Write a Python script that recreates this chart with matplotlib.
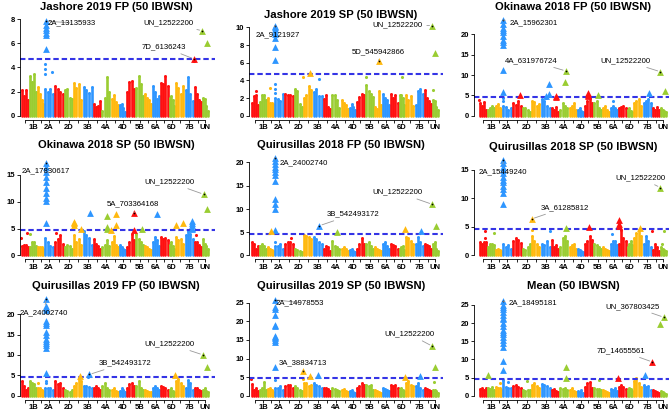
import numpy as np
import matplotlib.pyplot as plt

plt.rcParams['font.family'] = ['Liberation Sans', 'DejaVu Sans']

# chromosome layout (Mb)
chroms = ['1A', '1B', '1D', '2A', '2B', '2D', '3A', '3B', '3D', '4A', '4B', '4D',
          '5A', '5B', '5D', '6A', '6B', '6D', '7A', '7B', '7D', 'UN']
chrom_len = [594, 689, 495, 780, 801, 651, 750, 830, 615, 745, 674, 509,
             709, 713, 566, 618, 721, 473, 736, 750, 638, 480]
chrom_colors = ['#FF1010', '#9ACD32', '#FFB90F', '#2E96FF']
threshold = 4.67

titles = ['Jashore 2019 FP (50 IBWSN)', 'Jashore 2019 SP (50 IBWSN)', 'Okinawa 2018 FP (50 IBWSN)',
          'Okinawa 2018 SP (50 IBWSN)', 'Quirusillas 2018 FP (50 IBWSN)', 'Quirusillas 2018 SP (50 IBWSN)',
          'Quirusillas 2019 FP (50 IBWSN)', 'Quirusillas 2019 SP (50 IBWSN)', 'Mean (50 IBWSN)']
yticks_max = [8, 10, 20, 15, 20, 15, 20, 25, 25]
ytick_step = [2, 2, 5, 5, 5, 5, 5, 5, 5]

# --- background -log10(p) skyline, 4 values per chromosome ---
p1_stems = [[2.1, 1.6, 2.1, 1.3], [3.3, 2.8, 3.5, 2.0], [2.4, 1.8, 1.3, 1.0], [2.2, 2.0, 2.2, 1.8],
            [2.5, 2.2, 2.0, 1.8], [2.1, 2.2, 1.5, 1.4], [2.7, 2.3, 2.6, 1.3], [2.4, 2.1, 1.9, 2.4],
            [1.0, 0.7, 0.8, 1.2], [0.4, 1.5, 3.2, 2.0], [1.4, 1.7, 1.1, 0.9], [0.9, 1.0, 0.6, 0.3],
            [2.0, 2.8, 2.9, 2.2], [2.3, 3.3, 2.6, 1.6], [1.8, 1.5, 1.3, 1.0], [2.5, 2.0, 1.4, 1.6],
            [2.7, 2.6, 3.3, 2.5], [1.5, 1.6, 1.3, 0.8], [2.7, 2.3, 1.8, 2.5], [2.1, 3.2, 1.8, 1.2],
            [2.4, 1.8, 1.3, 1.1], [1.5, 1.4, 0.8, 0.4]]
p2_stems = [[1.4, 2.2, 2.3, 1.2], [1.5, 2.3, 2.4, 1.8], [2.0, 1.4, 1.4, 1.3], [2.0, 1.9, 1.7, 2.5],
            [2.5, 2.3, 2.4, 2.2], [3.0, 2.8, 1.3, 1.0], [2.0, 2.4, 3.4, 2.9], [2.7, 3.0, 2.2, 2.2],
            [1.9, 2.3, 1.0, 0.8], [2.4, 2.3, 1.8, 0.9], [1.8, 1.4, 1.2, 0.8], [0.9, 1.3, 1.0, 0.6],
            [1.5, 2.1, 2.5, 2.3], [3.5, 2.8, 2.5, 2.1], [1.0, 0.8, 2.8, 1.2], [2.5, 2.0, 1.8, 1.2],
            [2.5, 2.0, 2.3, 1.4], [2.4, 2.4, 2.0, 1.2], [2.3, 1.8, 2.2, 1.1], [1.2, 2.8, 3.0, 2.5],
            [2.9, 2.0, 1.7, 1.3], [1.8, 1.7, 1.0, 0.7]]
p3_stems = [[3.0, 2.5, 3.3, 1.5], [1.5, 2.0, 2.5, 1.8], [2.5, 2.8, 2.0, 1.5], [2.5, 2.2, 1.5, 1.8],
            [3.0, 2.6, 3.5, 2.5], [2.0, 1.8, 1.5, 1.0], [3.5, 3.3, 2.5, 2.8], [4.0, 3.5, 2.5, 2.0],
            [2.0, 1.5, 2.2, 1.0], [1.3, 3.2, 2.5, 2.0], [1.8, 2.5, 3.0, 1.5], [1.5, 1.8, 1.2, 0.8],
            [2.5, 3.5, 4.5, 3.0], [3.0, 3.5, 2.0, 1.5], [2.0, 2.5, 1.5, 1.0], [2.0, 2.5, 2.0, 1.5],
            [2.0, 2.2, 2.4, 1.8], [1.5, 1.8, 1.2, 1.0], [3.0, 3.5, 4.0, 2.5], [3.0, 3.5, 4.0, 3.0],
            [2.0, 1.5, 2.2, 1.5], [1.8, 1.5, 1.2, 1.0]]
p4_stems = [[1.8, 2.0, 2.0, 1.5], [1.6, 2.5, 2.5, 1.8], [1.5, 1.6, 1.5, 1.2], [3.2, 2.5, 1.8, 1.5],
            [2.5, 3.0, 3.8, 2.2], [1.5, 2.0, 1.8, 1.2], [3.8, 2.5, 3.0, 2.0], [4.5, 3.8, 3.2, 2.0],
            [3.0, 2.2, 1.8, 1.2], [1.5, 2.0, 2.8, 1.8], [2.5, 3.7, 2.0, 1.5], [2.0, 1.5, 1.2, 1.0],
            [1.5, 2.5, 4.0, 2.8], [4.0, 3.0, 2.5, 2.0], [1.8, 1.5, 1.2, 1.0], [2.5, 3.5, 2.8, 1.8],
            [3.5, 3.0, 3.2, 2.8], [2.0, 2.5, 1.8, 1.2], [3.5, 2.8, 3.0, 2.2], [3.8, 4.5, 4.0, 3.0],
            [2.5, 2.6, 2.0, 1.5], [3.0, 2.2, 1.8, 1.2]]
p5_stems = [[3.0, 2.5, 1.5, 2.0], [2.0, 2.5, 2.0, 1.5], [1.8, 1.5, 1.2, 1.0], [2.0, 2.0, 2.5, 1.5],
            [2.5, 3.0, 3.0, 2.5], [1.5, 1.2, 1.0, 0.8], [4.5, 4.2, 4.0, 3.5], [4.0, 3.5, 3.0, 2.5],
            [1.5, 2.0, 1.8, 1.0], [3.2, 2.0, 1.8, 1.5], [1.5, 1.8, 1.3, 1.0], [1.2, 1.5, 1.0, 0.8],
            [1.5, 2.5, 3.8, 2.5], [2.5, 3.0, 2.0, 1.5], [1.8, 1.5, 1.2, 0.9], [2.5, 2.8, 2.0, 1.5],
            [2.5, 2.2, 2.0, 1.5], [1.5, 1.8, 2.0, 1.2], [4.0, 3.8, 3.2, 2.5], [2.5, 4.0, 3.0, 2.0],
            [2.5, 2.2, 2.0, 1.5], [2.5, 3.0, 1.5, 1.0]]
p6_stems = [[2.4, 2.0, 2.3, 2.3], [1.5, 2.0, 2.0, 1.8], [1.0, 1.2, 1.0, 0.8], [2.0, 1.5, 1.8, 1.2],
            [2.5, 3.0, 2.8, 2.2], [1.2, 1.0, 1.5, 2.0], [3.5, 2.5, 2.0, 1.5], [2.0, 1.8, 2.5, 1.5],
            [2.8, 1.5, 1.8, 1.2], [1.5, 3.0, 3.5, 2.5], [1.5, 1.8, 2.0, 1.2], [1.2, 1.0, 0.8, 0.6],
            [2.0, 2.5, 3.5, 2.8], [2.0, 1.8, 1.5, 1.2], [1.5, 1.2, 1.0, 0.8], [2.0, 2.5, 2.5, 1.8],
            [2.0, 4.5, 3.0, 2.5], [1.5, 2.0, 2.5, 1.8], [3.0, 4.0, 4.5, 3.5], [2.0, 3.4, 2.5, 1.5],
            [1.0, 2.0, 1.5, 0.8], [1.5, 1.2, 1.0, 0.8]]
p7_stems = [[3.5, 2.5, 1.5, 2.0], [3.5, 3.2, 2.8, 2.0], [2.0, 2.0, 1.5, 1.2], [2.0, 2.0, 1.8, 1.5],
            [3.5, 2.8, 3.0, 2.0], [1.5, 1.2, 1.0, 1.5], [2.5, 3.0, 4.0, 3.5], [2.5, 2.5, 2.2, 1.8],
            [2.0, 2.5, 1.8, 1.5], [2.5, 3.0, 1.8, 1.5], [1.5, 1.8, 1.2, 1.0], [1.2, 1.8, 1.5, 1.0],
            [2.0, 2.8, 3.0, 2.5], [2.5, 3.5, 2.0, 1.5], [1.5, 1.2, 1.0, 0.8], [2.0, 2.5, 1.8, 1.5],
            [2.5, 2.2, 2.0, 1.5], [1.5, 1.8, 1.2, 1.0], [3.5, 4.0, 3.0, 2.5], [2.0, 3.8, 3.0, 1.5],
            [2.0, 1.8, 1.5, 1.2], [1.5, 2.0, 1.2, 0.8]]
p8_stems = [[3.2, 1.5, 2.0, 1.2], [1.5, 2.0, 3.8, 1.5], [1.8, 2.0, 1.5, 1.0], [2.0, 2.0, 2.5, 1.5],
            [2.5, 3.0, 2.8, 2.0], [2.5, 2.0, 1.5, 1.2], [3.5, 3.5, 2.5, 3.0], [3.5, 3.0, 2.5, 2.0],
            [2.0, 2.2, 1.8, 1.2], [2.0, 1.8, 1.5, 1.2], [1.5, 1.8, 1.2, 1.0], [1.2, 1.5, 1.0, 0.8],
            [2.0, 2.5, 3.5, 3.0], [3.0, 2.5, 2.8, 1.5], [1.5, 1.2, 1.0, 0.8], [2.0, 1.8, 1.5, 1.2],
            [3.0, 2.5, 2.8, 2.0], [1.8, 2.0, 1.5, 1.2], [3.5, 4.0, 3.0, 2.5], [2.5, 3.5, 2.0, 1.5],
            [2.0, 1.8, 1.5, 1.2], [1.5, 1.5, 1.2, 0.8]]
p9_stems = [[1.8, 2.0, 1.5, 2.2], [2.0, 1.8, 2.5, 1.5], [2.5, 2.0, 2.0, 1.5], [4.2, 2.5, 2.0, 2.0],
            [2.8, 3.0, 2.5, 2.2], [1.5, 1.2, 1.5, 1.5], [3.0, 3.5, 2.8, 2.0], [3.2, 3.0, 2.8, 2.0],
            [1.5, 1.8, 1.2, 1.0], [2.0, 1.8, 2.2, 1.5], [1.5, 2.0, 1.2, 1.0], [1.2, 1.0, 1.5, 0.8],
            [2.5, 3.5, 3.8, 2.0], [2.0, 1.8, 1.8, 1.5], [1.5, 1.2, 1.0, 0.8], [1.8, 1.5, 2.0, 1.2],
            [2.5, 3.0, 2.5, 1.8], [1.5, 2.0, 1.8, 1.2], [4.0, 4.8, 3.5, 2.5], [3.0, 2.5, 2.8, 1.5],
            [1.5, 1.2, 1.0, 0.8], [1.2, 1.0, 0.8, 0.6]]

# --- isolated points above the skyline: (chrom, fraction along chrom, -log10 p) ---
p1_dots = [('2A', 0.15, 3.5), ('2A', 0.15, 3.9), ('2A', 0.15, 4.3), ('2A', 0.85, 3.65), ('7D', 0.02, 4.5)]
p2_dots = [('1A', 0.7, 2.85), ('1D', 0.45, 3.1), ('2A', 0.1, 2.6), ('2A', 0.1, 3.0), ('2A', 0.1, 3.6),
           ('3A', 0.0, 4.4), ('3B', 0.65, 4.2), ('5B', 0.1, 4.4), ('6D', 0.6, 4.4), ('UN', 0.1, 2.9)]
p3_dots = [('1A', 0.05, 3.9), ('2A', 0.13, 4.3), ('2A', 0.13, 3.6), ('3B', 0.5, 4.4), ('6A', 0.4, 3.5)]
p4_dots = [('1A', 0.05, 3.3), ('1A', 0.8, 4.2), ('1B', 0.15, 4.0), ('2B', 0.2, 4.1), ('7D', 0.2, 3.9)]
p5_dots = [('2A', 0.1, 3.0), ('2B', 0.7, 3.8)]
p6_dots = [('1A', 0.75, 4.3), ('1A', 0.75, 3.1), ('1B', 0.85, 4.0), ('3A', 0.1, 4.5), ('3B', 0.85, 4.3),
           ('6A', 0.35, 3.8), ('7D', 0.0, 4.3), ('UN', 0.6, 4.3), ('UN', 0.3, 2.0)]
p7_dots = [('1D', 0.1, 3.2), ('2A', 0.2, 3.7), ('2A', 0.2, 3.2), ('3B', 0.55, 4.5)]
p8_dots = [('1A', 0.05, 4.6), ('2A', 0.1, 4.2), ('3A', 0.05, 4.4), ('UN', 0.3, 3.8)]
p9_dots = [('1D', 0.75, 3.5), ('2A', 0.6, 3.8), ('2D', 0.6, 4.0), ('5B', 0.6, 4.3)]

# --- significant SNPs (triangles): (chrom, fraction, -log10 p) ---
p1_tri = [('2A', 0.2, v) for v in [7.5, 7.3, 7.1, 6.9, 6.7, 5.5]] + [('UN', 0.74, 6.05)]
p2_tri = [('2A', 0.07, v) for v in [10.0, 9.8, 9.5, 9.2, 8.8, 7.8, 6.3]] + [('3A', 0.76, 4.8), ('UN', 0.47, 7.1)]
p3_tri = ([('2A', 0.13, v) for v in [22.5, 21.5, 21.0, 20.5, 19.5, 18.5, 18.0, 17.3, 11.3, 5.8]] +
          [('2B', 0.77, 5.0), ('3B', 0.8, 7.8), ('3B', 0.8, 5.3), ('3B', 0.5, 4.9), ('3D', 0.58, 4.8),
           ('3D', 0.58, 4.5), ('4A', 0.65, 8.3), ('5A', 0.48, 5.6), ('5A', 0.48, 5.2), ('5A', 0.48, 4.8),
           ('5B', 0.57, 5.1), ('7B', 0.66, 5.6), ('UN', 0.68, 6.0)])
p4_tri = ([('2A', 0.17, v) for v in [16.5, 15.6, 14.6, 13.6, 12.6, 11.6, 10.8, 10.2, 6.1]] +
          [('3A', 0.1, 6.3), ('3A', 0.1, 6.0), ('3A', 0.1, 5.7), ('3A', 0.9, 4.9), ('3B', 0.75, 8.0),
           ('4A', 0.62, 7.3), ('4A', 0.62, 5.3), ('4A', 0.62, 5.0), ('4B', 0.58, 7.7), ('4B', 0.58, 5.6),
           ('4B', 0.02, 4.8), ('5A', 0.85, 4.8), ('5B', 0.75, 4.9), ('6A', 0.7, 7.8), ('7A', 0.07, 5.7),
           ('7A', 0.83, 6.0), ('7B', 0.8, 6.4), ('7B', 0.8, 6.0), ('7B', 0.8, 5.7), ('7B', 0.8, 5.2),
           ('7B', 0.8, 4.9), ('UN', 0.74, 8.6)])
p5_tri = ([('2A', 0.07, v) for v in [20.4, 19.6, 19.0, 18.5, 18.0, 17.4, 16.0, 12.2, 11.0, 10.0, 5.5]] +
          [('1D', 0.58, 5.2), ('4A', 0.6, 5.0), ('7A', 0.05, 5.6), ('7B', 0.65, 5.2), ('UN', 0.58, 6.4)])
p6_tri = ([('2A', 0.13, v) for v in [16.2, 15.5, 15.0, 14.4, 13.8, 13.3, 12.8, 12.2, 11.6, 11.0, 9.0]] +
          [('4A', 0.7, 4.8), ('5A', 0.55, 5.0), ('6B', 0.15, 6.3), ('6B', 0.15, 5.6), ('6B', 0.15, 5.2),
           ('7A', 0.7, 4.8)])
p7_tri = ([('2A', 0.2, v) for v in [22.0, 21.5, 21.0, 18.3, 17.8, 17.3, 15.6, 15.0, 14.0, 13.5, 13.0,
                                    12.4, 11.8, 5.5]] +
          [('3A', 0.8, 4.9), ('7A', 0.03, 5.0), ('UN', 0.74, 7.0)])
p8_tri = ([('2A', 0.07, v) for v in [23.8, 23.4, 21.8, 19.1, 18.7, 16.0, 15.7, 15.4, 15.0, 14.5, 7.8]] +
          [('3A', 0.76, 5.3), ('3B', 0.5, 5.6), ('7A', 0.0, 5.0), ('7B', 0.6, 5.2), ('UN', 0.47, 7.7)])
p9_tri = ([('2A', 0.13, v) for v in [25.0, 24.4, 23.8, 23.0, 22.2, 21.5, 21.0, 20.0, 19.2, 18.2, 17.6,
                                     17.0, 16.2, 15.3, 14.5, 13.3, 9.5, 7.2]] +
          [('1B', 0.1, 5.8), ('4A', 0.75, 7.8), ('4A', 0.75, 4.9), ('6B', 0.03, 5.0), ('7B', 0.3, 5.7),
           ('UN', 0.0, 19.8)])

# --- labelled SNPs: (chrom, fraction, -log10 p, name, label x [Mb], label y) ---
p1_lab = [('2A', 0.2, 7.85, '2A_13135933', 3918, 7.7), ('UN', 0.0, 7.05, 'UN_12522200', 11392, 7.7),
          ('7D', 0.02, 4.7, '7D_6136243', 11057, 5.7)]
p2_lab = [('2A', 0.07, 10.2, '2A_9121927', 2088, 9.2), ('UN', 0.0, 10.2, 'UN_12522200', 11366, 10.3),
          ('5D', 0.6, 6.2, '5D_545942866', 9897, 7.2)]
p3_lab = [('2A', 0.13, 23.5, '2A_15962301', 4227, 22.9), ('4A', 0.7, 11.0, '4A_631976724', 4021, 13.5),
          ('UN', 0.0, 10.8, 'UN_12522200', 11366, 13.5)]
p4_lab = [('2A', 0.17, 17.2, '2A_17830617', 1907, 15.7), ('5A', 0.89, 8.0, '5A_703364168', 8686, 9.6),
          ('UN', 0.2, 11.4, 'UN_12522200', 11469, 13.7)]
p5_lab = [('2A', 0.07, 21.0, '2A_24002740', 4072, 20.0), ('3B', 0.65, 6.4, '3B_542493172', 7938, 8.9),
          ('UN', 0.0, 11.0, 'UN_12522200', 11366, 13.6)]
p6_lab = [('2A', 0.13, 16.8, '2A_15449240', 1830, 14.7), ('3A', 0.1, 6.4, '3A_61285812', 6675, 8.4),
          ('UN', 0.0, 11.9, 'UN_12522200', 12526, 13.6)]
p7_lab = [('2A', 0.2, 23.8, '2A_24002740', 1804, 20.4), ('3B', 0.65, 5.2, '3B_542493172', 8041, 8.0),
          ('UN', 0.1, 10.0, 'UN_12522200', 11521, 12.7)]
p8_lab = [('2A', 0.07, 25.8, '2A_14978553', 3814, 25.0), ('3A', 0.03, 6.6, '3A_38834713', 4021, 8.8),
          ('UN', 0.0, 13.3, 'UN_12522200', 12268, 16.6)]
p9_lab = [('2A', 0.13, 26.0, '2A_18495181', 4201, 25.6), ('UN', 0.57, 21.6, 'UN_367803425', 11881, 24.6),
          ('7D', 0.02, 9.3, '7D_14655561', 10979, 12.4)]

panels = [
    (p1_stems, p1_dots, p1_tri, p1_lab), (p2_stems, p2_dots, p2_tri, p2_lab), (p3_stems, p3_dots, p3_tri, p3_lab),
    (p4_stems, p4_dots, p4_tri, p4_lab), (p5_stems, p5_dots, p5_tri, p5_lab), (p6_stems, p6_dots, p6_tri, p6_lab),
    (p7_stems, p7_dots, p7_tri, p7_lab), (p8_stems, p8_dots, p8_tri, p8_lab), (p9_stems, p9_dots, p9_tri, p9_lab),
]

# cumulative positions
starts = np.concatenate([[0], np.cumsum(chrom_len)[:-1]])
centers = starts + np.array(chrom_len) / 2
idx = {c: i for i, c in enumerate(chroms)}


def gpos(ch, frac):
    i = idx[ch]
    return starts[i] + frac * chrom_len[i]


def col_of(ch):
    return chrom_colors[idx[ch] % 4]


# layout in pixels
W, H = 669, 411
col_left = [20, 249, 474]
col_data0 = [21, 251, 479]
col_right = [215, 443, 669]
title_x = [116, 341, 573]
row_top = [0, 137, 274]
row_zero = [115.7, 255.5, 395.7]
title_dy = [7, 15, 7, 8.5, 8.5, 10, 12, 12, 12]
px_per_unit = [12.05, 8.83, 4.07, 5.37, 4.65, 5.71, 4.08, 3.72, 3.63]
px_per_mb = 0.0129
axis_gap = 3.8
top_px = 14

fig = plt.figure(figsize=(W / 100, H / 100), dpi=100)

for k, (stems, dots, tri, lab) in enumerate(panels):
    r, c = divmod(k, 3)
    ax_top = row_top[r] + top_px
    bottom_px = row_zero[r] + axis_gap
    ax = fig.add_axes([col_left[c] / W, 1 - bottom_px / H, (col_right[c] - col_left[c]) / W,
                       (bottom_px - ax_top) / H])
    ax.set_xlim(-(col_data0[c] - col_left[c]) / px_per_mb, (col_right[c] - col_data0[c]) / px_per_mb)
    ax.set_ylim(-axis_gap / px_per_unit[k], (row_zero[r] - ax_top) / px_per_unit[k])

    # skyline stems
    for i, heights in enumerate(stems):
        xs = [starts[i] + chrom_len[i] * (j + 0.5) / len(heights) for j in range(len(heights))]
        color = chrom_colors[i % 4]
        ax.vlines(xs, 0, heights, colors=color, linewidth=1.9, capstyle='round', zorder=2)
        ax.scatter(xs, heights, s=4, color=color, linewidths=0, zorder=2)

    for ch, fr, y in dots:
        ax.scatter(gpos(ch, fr), y, s=5, color=col_of(ch), linewidths=0, zorder=2)

    ax.axhline(threshold, color='#3434E6', linewidth=1.5, dashes=(2.6, 1.4), zorder=2.5)

    for ch, fr, y in tri:
        ax.scatter(gpos(ch, fr), y, marker='^', s=24, color=col_of(ch), linewidths=0, zorder=3)

    for ch, fr, y, name, tx, ty in lab:
        x = gpos(ch, fr)
        ax.scatter(x, y, marker='^', s=24, color=col_of(ch), linewidths=0, zorder=3)
        ax.scatter(x, y, s=1.5, color='black', linewidths=0, zorder=4)
        ax.annotate(name, xy=(x, y), xytext=(tx, ty), ha='center', va='center', fontsize=5.6,
                    color='black', zorder=5, annotation_clip=False,
                    arrowprops=dict(arrowstyle='-', color='#999999', lw=0.6, shrinkA=1, shrinkB=2))

    # axes styling, R base look
    for s in ['top', 'right']:
        ax.spines[s].set_visible(False)
    ax.spines['left'].set_bounds(0, yticks_max[k])
    ax.spines['bottom'].set_bounds(centers[0], centers[-1])
    for s in ['left', 'bottom']:
        ax.spines[s].set_linewidth(0.6)
    ax.set_yticks(np.arange(0, yticks_max[k] + 1, ytick_step[k]))
    ax.set_xticks(centers)
    ax.set_xticklabels([ch if i % 2 == 1 else '' for i, ch in enumerate(chroms)])
    ax.tick_params(axis='both', labelsize=5.5, length=2, width=0.6, pad=1.5)
    for t in ax.get_xticklabels() + ax.get_yticklabels():
        t.set_fontweight('bold')
    ax.patch.set_visible(False)

    fig.text(title_x[c] / W, 1 - (row_top[r] + title_dy[k]) / H, titles[k], ha='center', va='center',
             fontsize=8.1, fontweight='bold')

fig.savefig('out.png', dpi=100)
